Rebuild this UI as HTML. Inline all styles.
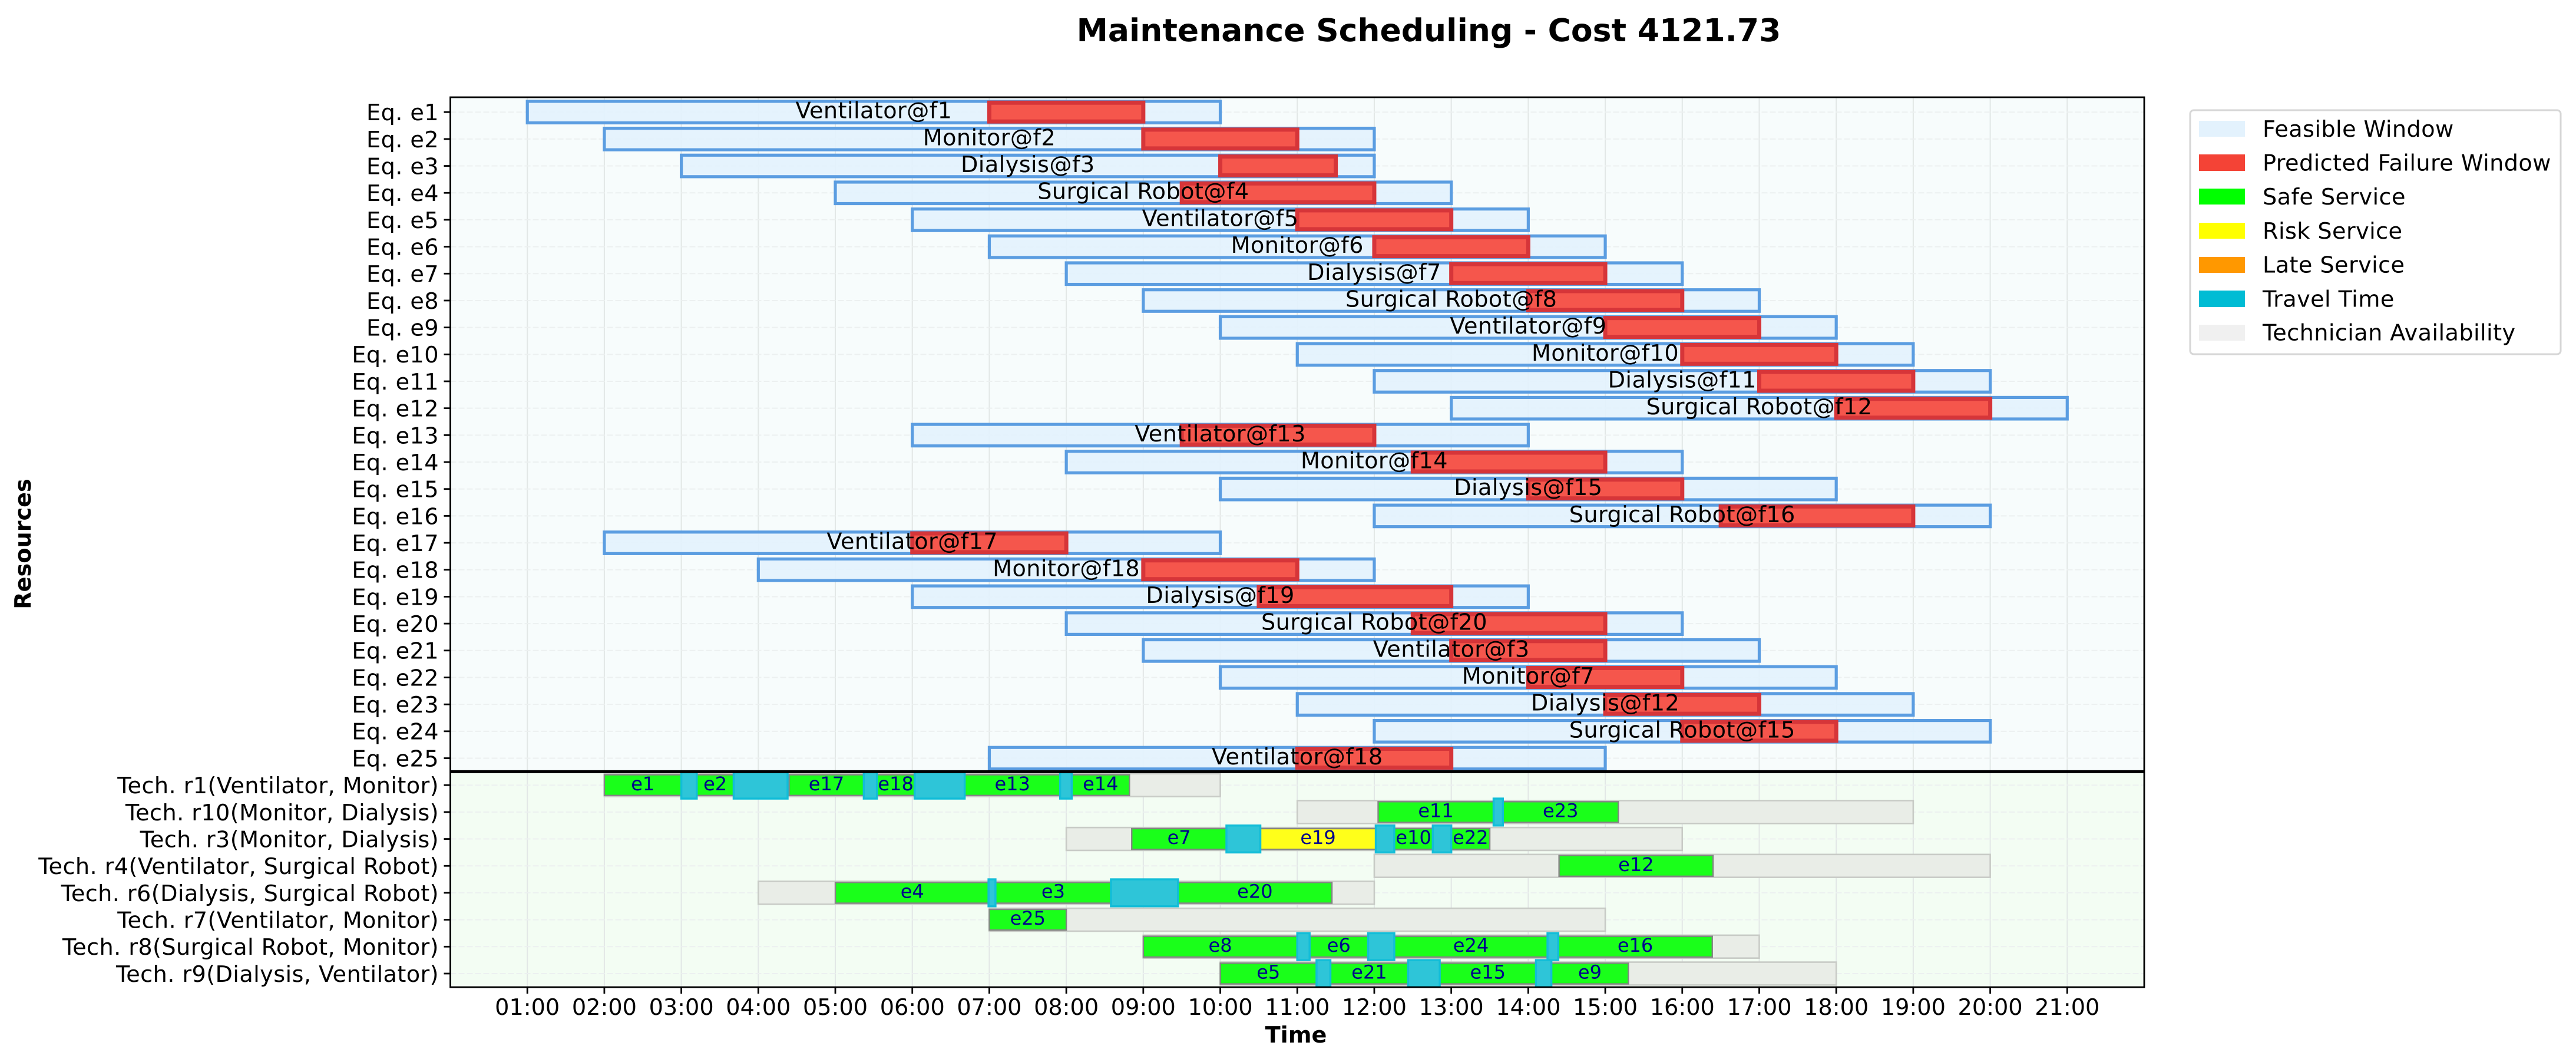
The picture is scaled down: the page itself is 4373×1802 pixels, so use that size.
<!DOCTYPE html>
<html lang="en">
<head>
<meta charset="utf-8">
<title>Maintenance Scheduling</title>
<style>
html,body{margin:0;padding:0;background:#fff;width:4373px;height:1802px;overflow:hidden}
svg{display:block}
text{font-family:"DejaVu Sans","Liberation Sans",sans-serif;fill:#000;text-rendering:geometricPrecision}
.spaced{letter-spacing:.42px}
</style>
</head>
<body>
<svg id="chart" xmlns="http://www.w3.org/2000/svg" width="4373" height="1802" viewBox="0 0 4373 1802">
  <rect x="0" y="0" width="4373" height="1802" fill="#ffffff"/>
  <text x="2425.5" y="70" text-anchor="middle" font-size="53.5" font-weight="bold">Maintenance Scheduling - Cost 4121.73</text>
  <text x="2200" y="1769" text-anchor="middle" font-size="38.2" font-weight="bold">Time</text>
  <text transform="translate(52 923) rotate(-90)" text-anchor="middle" font-size="38.2" font-weight="bold">Resources</text>
  <g id="plot"></g>
  <g>
    <rect x="3718" y="187" width="629" height="414" rx="6" ry="6" fill="#ffffff" stroke="#d6d6d6" stroke-width="3"/>
    <g><rect x="3733" y="205" width="78" height="27" fill="#e3f2fd"/><text class="spaced" x="3841" y="232" font-size="38.2">Feasible Window</text></g>
    <g><rect x="3733" y="262" width="78" height="28" fill="#f44336"/><text class="spaced" x="3841" y="289.5" font-size="38.2">Predicted Failure Window</text></g>
    <g><rect x="3733" y="320" width="78" height="27" fill="#00ff00"/><text class="spaced" x="3841" y="347" font-size="38.2">Safe Service</text></g>
    <g><rect x="3733" y="378" width="78" height="27" fill="#ffff00"/><text class="spaced" x="3841" y="405" font-size="38.2">Risk Service</text></g>
    <g><rect x="3733" y="436" width="78" height="27" fill="#ff9800"/><text class="spaced" x="3841" y="462.7" font-size="38.2">Late Service</text></g>
    <g><rect x="3733" y="493" width="78" height="28" fill="#00bcd4"/><text class="spaced" x="3841" y="520.5" font-size="38.2">Travel Time</text></g>
    <g><rect x="3733" y="551" width="78" height="27" fill="#f0f0f0"/><text class="spaced" x="3841" y="577.5" font-size="38.2">Technician Availability</text></g>
  </g>
</svg>
<script>
const hourValues = [1,2,3,4,5,6,7,8,9,10,11,12,13,14,15,16,17,18,19,20,21];
const hourLabels = ['01:00','02:00','03:00','04:00','05:00','06:00','07:00','08:00','09:00','10:00','11:00','12:00','13:00','14:00','15:00','16:00','17:00','18:00','19:00','20:00','21:00'];

const equipmentLabels = ['Eq. e1','Eq. e2','Eq. e3','Eq. e4','Eq. e5','Eq. e6','Eq. e7','Eq. e8','Eq. e9','Eq. e10','Eq. e11','Eq. e12','Eq. e13','Eq. e14','Eq. e15','Eq. e16','Eq. e17','Eq. e18','Eq. e19','Eq. e20','Eq. e21','Eq. e22','Eq. e23','Eq. e24','Eq. e25'];
const equipmentText = ['Ventilator@f1','Monitor@f2','Dialysis@f3','Surgical Robot@f4','Ventilator@f5','Monitor@f6','Dialysis@f7','Surgical Robot@f8','Ventilator@f9','Monitor@f10','Dialysis@f11','Surgical Robot@f12','Ventilator@f13','Monitor@f14','Dialysis@f15','Surgical Robot@f16','Ventilator@f17','Monitor@f18','Dialysis@f19','Surgical Robot@f20','Ventilator@f3','Monitor@f7','Dialysis@f12','Surgical Robot@f15','Ventilator@f18'];
const feasibleStart = [1,2,3,5,6,7,8,9,10,11,12,13,6,8,10,12,2,4,6,8,9,10,11,12,7];
const feasibleEnd = [10,12,12,13,14,15,16,17,18,19,20,21,14,16,18,20,10,12,14,16,17,18,19,20,15];
const failureStart = [7,9,10,9.5,11,12,13,14,15,16,17,18,9.5,12.5,14,16.5,6,9,10.5,12.5,13,14,15,16,11];
const failureEnd = [9,11,11.5,12,13,14,15,16,17,18,19,20,12,15,16,19,8,11,13,15,15,16,17,18,13];

const techLabels = ['Tech. r1(Ventilator, Monitor)','Tech. r10(Monitor, Dialysis)','Tech. r3(Monitor, Dialysis)','Tech. r4(Ventilator, Surgical Robot)','Tech. r6(Dialysis, Surgical Robot)','Tech. r7(Ventilator, Monitor)','Tech. r8(Surgical Robot, Monitor)','Tech. r9(Dialysis, Ventilator)'];
const availabilityStart = [2,11,8,12,4,7,9,10];
const availabilityEnd = [10,19,16,20,12,15,17,18];

const serviceTech = [0,0,0,0,0,0,1,1,2,2,2,2,3,4,4,4,5,6,6,6,6,7,7,7,7];
const serviceLabels = ['e1','e2','e17','e18','e13','e14','e11','e23','e7','e19','e10','e22','e12','e4','e3','e20','e25','e8','e6','e24','e16','e5','e21','e15','e9'];
const serviceStart = [2,3.2,4.4,5.54,6.68,8.07,12.05,13.67,8.85,10.52,12.26,13,14.4,5,7.08,9.45,7,9,11.16,12.26,14.39,10,11.43,12.85,14.3];
const serviceEnd = [3,3.68,5.37,6.03,7.92,8.82,13.55,15.17,10.08,12.02,12.76,13.5,16.4,7,8.58,11.45,8,11,11.92,14.25,16.39,11.25,12.44,14.1,15.3];
const serviceStatus = ['safe','safe','safe','safe','safe','safe','safe','safe','safe','risk','safe','safe','safe','safe','safe','safe','safe','safe','safe','safe','safe','safe','safe','safe','safe'];

const travelTech = [0,0,0,0,0,1,2,2,2,4,4,6,6,6,7,7,7];
const travelStart = [3,3.68,5.37,6.03,7.92,13.55,10.08,12.02,12.76,6.99,8.58,11,11.92,14.25,11.25,12.44,14.1];
const travelEnd = [3.2,4.38,5.54,6.68,8.07,13.67,10.52,12.26,13,7.08,9.45,11.16,12.26,14.39,11.43,12.85,14.3];

const axisLeft = 764.5, axisRight = 3640, axisTop = 165, axisBottom = 1675;
const xScale = h => axisLeft + h * (axisRight - axisLeft) / 22;
const yScale = i => 190.2 + i * 45.68;
const rowHeight = yScale(1) - yScale(0);
const NS = 'http://www.w3.org/2000/svg';
const plot = document.getElementById('plot');

function add(tag, attrs, text) {
  const el = document.createElementNS(NS, tag);
  for (const k in attrs) el.setAttribute(k, attrs[k]);
  if (text !== undefined) el.textContent = text;
  plot.appendChild(el);
  return el;
}
function barRect(rowIndex, start, end, heightFrac, style) {
  const h = heightFrac * rowHeight;
  return add('rect', Object.assign({
    x: xScale(start),
    y: yScale(rowIndex) - h / 2,
    width: xScale(end) - xScale(start),
    height: h
  }, style));
}

const allRows = equipmentLabels.length + techLabels.length;
const splitRow = equipmentLabels.length - 0.5;

let el = add('rect', {x: axisLeft, y: axisTop, width: axisRight - axisLeft, height: yScale(splitRow) - axisTop, fill: '#f7fcfc'});


el = add('rect', {x: axisLeft, y: yScale(splitRow), width: axisRight - axisLeft, height: axisBottom - yScale(splitRow), fill: '#f3fdf3'});



hourValues.forEach((h) => {
  const line = add('line', {x1: xScale(h), x2: xScale(h), y1: axisTop, y2: axisBottom, stroke: '#e2e7e6', 'stroke-width': 2});
  
  
});
for (let i = 0; i < allRows; i++) {
  const line = add('line', {x1: axisLeft, x2: axisRight, y1: yScale(i), y2: yScale(i), stroke: '#ecf0f0', 'stroke-width': 2, 'stroke-dasharray': '10 4'});
  
  
}

equipmentLabels.forEach((label, i) => {
  const win = barRect(i, feasibleStart[i], feasibleEnd[i], 0.8, {fill: '#e3f2fd', 'fill-opacity': 0.92, stroke: '#5b9de1', 'stroke-width': 5.2});
  
  
});
equipmentLabels.forEach((label, i) => {
  const fail = barRect(i, failureStart[i], failureEnd[i], 0.7, {fill: '#f5564c', stroke: '#d63539', 'stroke-width': 7});
  
  
});
equipmentText.forEach((label, i) => {
  const t = add('text', {class: 'spaced', x: (xScale(feasibleStart[i]) + xScale(feasibleEnd[i])) / 2, y: yScale(i) + 10.5, 'text-anchor': 'middle', 'font-size': 38.2}, label);
  
  
});

const techRow = t => equipmentLabels.length + t;
techLabels.forEach((label, t) => {
  const av = barRect(techRow(t), availabilityStart[t], availabilityEnd[t], 0.85, {fill: '#e9ede7', stroke: '#c8cbc6', 'stroke-width': 2.6});
  
  
});
const statusColor = {safe: '#1aff1a', risk: '#ffff1a', late: '#ff9800'};
serviceLabels.forEach((label, s) => {
  const row = techRow(serviceTech[s]);
  const bar = barRect(row, serviceStart[s], serviceEnd[s], 0.77, {fill: statusColor[serviceStatus[s]], stroke: '#858585', 'stroke-width': 2.4});
  
  
  const t = add('text', {x: (xScale(serviceStart[s]) + xScale(serviceEnd[s])) / 2, y: yScale(row) + 8.6, 'text-anchor': 'middle', 'font-size': 32, style: 'fill:#00008b'}, label);
  
  
});
travelTech.forEach((tech, k) => {
  const tr = barRect(techRow(tech), travelStart[k], travelEnd[k], 1, {fill: '#2ec5d8', stroke: '#12bdd8', 'stroke-width': 3.5});
  
  
});

el = add('rect', {x: axisLeft, y: axisBottom, width: axisRight - axisLeft, height: 12, fill: '#ffffff'});



el = add('line', {x1: axisLeft, x2: axisRight, y1: yScale(splitRow), y2: yScale(splitRow), stroke: '#000', 'stroke-width': 5});


el = add('rect', {x: axisLeft, y: axisTop, width: axisRight - axisLeft, height: axisBottom - axisTop, fill: 'none', stroke: '#000', 'stroke-width': 2.8});



hourValues.forEach((h, k) => {
  const tick = add('line', {x1: xScale(h), x2: xScale(h), y1: axisBottom, y2: axisBottom + 11, stroke: '#000', 'stroke-width': 2.8});
  
  
  const t = add('text', {x: xScale(h), y: 1722, 'text-anchor': 'middle', 'font-size': 38.2}, hourLabels[k]);
  
  
});
equipmentLabels.concat(techLabels).forEach((label, i) => {
  const tick = add('line', {x1: axisLeft - 11, x2: axisLeft, y1: yScale(i), y2: yScale(i), stroke: '#000', 'stroke-width': 2.8});
  
  
  const t = add('text', {class: 'spaced', x: 745, y: yScale(i) + 13.9, 'text-anchor': 'end', 'font-size': 38.2}, label);
  
  
});
</script>
</body>
</html>
